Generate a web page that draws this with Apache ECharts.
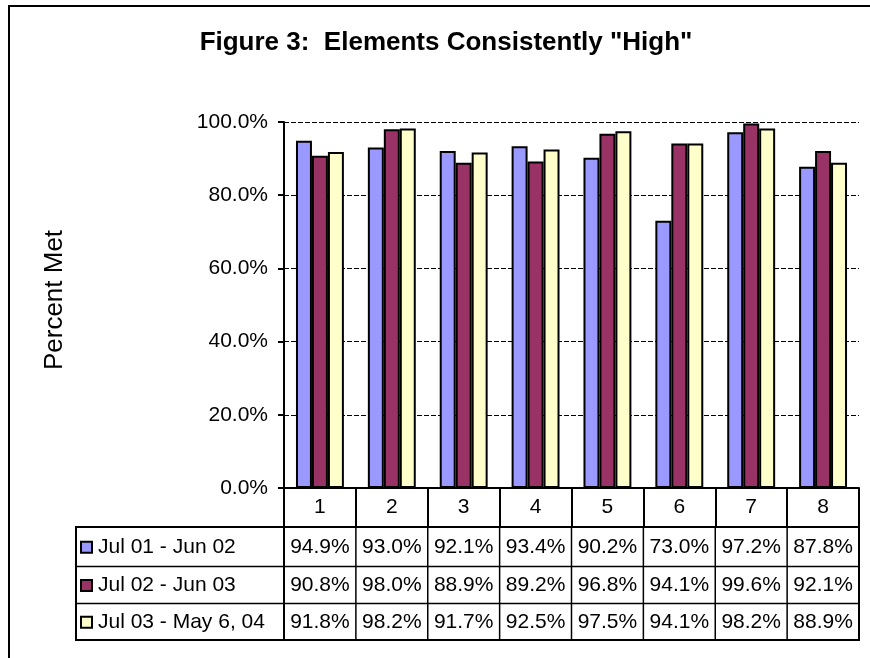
<!DOCTYPE html>
<html><head><meta charset="utf-8">
<script src="https://cdn.jsdelivr.net/npm/echarts@6/dist/echarts.min.js"></script>
<style>html,body{margin:0;padding:0;background:#fff;overflow:hidden}#c{width:870px;height:658px}</style>
</head><body><div id="c"></div>
<script>
const chartTitle = 'Figure 3:  Elements Consistently "High"';
const yAxisTitle = 'Percent Met';
const categories = ['1','2','3','4','5','6','7','8'];
const seriesNames = ['Jul 01 - Jun 02', 'Jul 02 - Jun 03', 'Jul 03 - May 6, 04'];
const valuesJul01 = [94.9, 93.0, 92.1, 93.4, 90.2, 73.0, 97.2, 87.8];
const valuesJul02 = [90.8, 98.0, 88.9, 89.2, 96.8, 94.1, 99.6, 92.1];
const valuesJul03 = [91.8, 98.2, 91.7, 92.5, 97.5, 94.1, 98.2, 88.9];
const yMin = 0, yMax = 100, yStep = 20;
const colors = ['#9999FF', '#993366', '#FFFFCC'];
const allValues = [valuesJul01, valuesJul02, valuesJul03];

const FF = '"Liberation Sans", Arial, sans-serif';
const chart = echarts.init(document.getElementById('c'), null, {renderer: 'canvas'});
const fmt = v => v.toFixed(1) + '%';

chart.setOption({
  animation: false,
  backgroundColor: '#fff',
  title: {
    text: chartTitle, left: 446, top: 30, padding: 0, textAlign: 'center',
    textStyle: {fontFamily: FF, fontSize: 26, fontWeight: 'bold', color: '#000'}
  },
  grid: {left: 284, right: 11, top: 122, bottom: 170, containLabel: false},
  xAxis: {
    type: 'category', data: categories,
    axisLine: {show: true, lineStyle: {color: '#000', width: 2}},
    axisTick: {show: true, length: 39, interval: 0, alignWithLabel: false, lineStyle: {color: '#000', width: 2}},
    axisLabel: {fontFamily: FF, fontSize: 21, color: '#000', margin: 9, interval: 0}
  },
  yAxis: {
    type: 'value', min: yMin, max: yMax, interval: yStep,
    axisLine: {show: true, lineStyle: {color: '#000', width: 2}},
    axisTick: {show: true, length: 6, lineStyle: {color: '#000', width: 2}},
    axisLabel: {fontFamily: FF, fontSize: 21, color: '#000', margin: 16, formatter: fmt},
    splitLine: {show: true, lineStyle: {color: '#000', width: 1, type: [5, 2]}}
  },
  series: allValues.map((vals, i) => ({
    name: seriesNames[i], type: 'bar', data: vals,
    barGap: '0%', barCategoryGap: '33.33%',
    itemStyle: {color: colors[i], borderColor: '#000', borderWidth: 2}
  }))
});

// Build data table (below plot) from the axis positions
const c0 = chart.convertToPixel({xAxisIndex: 0}, categories[0]);
const c1 = chart.convertToPixel({xAxisIndex: 0}, categories[1]);
const colW = c1 - c0;
const plotLeft = c0 - colW / 2;
const plotRight = plotLeft + colW * categories.length;
const tableLeft = 76;
const rowEdges = [527, 566.5, 603.5, 640];
const g = [];
const line = (x1, y1, x2, y2, w) => g.push({type: 'line', shape: {x1, y1, x2, y2}, style: {stroke: '#000', lineWidth: w}, z: 10});

// outer frame (only top and left edges are visible in the picture)
line(9, 5, 9, 658, 2);
line(8, 6, 870, 6, 2);
// y axis title
g.push({type: 'text', x: 55, y: 300, rotation: Math.PI / 2,
  style: {text: yAxisTitle, font: '26px ' + FF, fill: '#000', textAlign: 'center', textVerticalAlign: 'middle', verticalAlign: 'middle'}});

// table grid
g.push({type: 'rect', shape: {x: tableLeft, y: rowEdges[0], width: plotRight - tableLeft, height: rowEdges[3] - rowEdges[0]},
  style: {fill: 'none', stroke: '#000', lineWidth: 2}, z: 10});
line(tableLeft, rowEdges[1], plotRight, rowEdges[1], 1.5);
line(tableLeft, rowEdges[2], plotRight, rowEdges[2], 1.5);
for (let k = 0; k <= categories.length; k++) {
  const x = plotLeft + k * colW;
  line(x, rowEdges[0], x, rowEdges[3], k === 0 || k === categories.length ? 2 : 1.5);
}
for (let r = 0; r < 3; r++) {
  const cy = (rowEdges[r] + rowEdges[r + 1]) / 2;
  g.push({type: 'rect', shape: {x: 81, y: cy - 5, width: 11, height: 11},
    style: {fill: colors[r], stroke: '#000', lineWidth: 2}, z: 10});
  g.push({type: 'text', x: 98, y: cy,
    style: {text: seriesNames[r], font: '21px ' + FF, fill: '#000', textAlign: 'left', textVerticalAlign: 'middle', verticalAlign: 'middle'}, z: 10});
  allValues[r].forEach((v, i) => {
    const cx = chart.convertToPixel({xAxisIndex: 0}, categories[i]);
    g.push({type: 'text', x: cx, y: cy,
      style: {text: fmt(v), font: '21px ' + FF, fill: '#000', textAlign: 'center', textVerticalAlign: 'middle', verticalAlign: 'middle'}, z: 10});
  });
}
chart.setOption({graphic: g});
</script>
</body></html>
